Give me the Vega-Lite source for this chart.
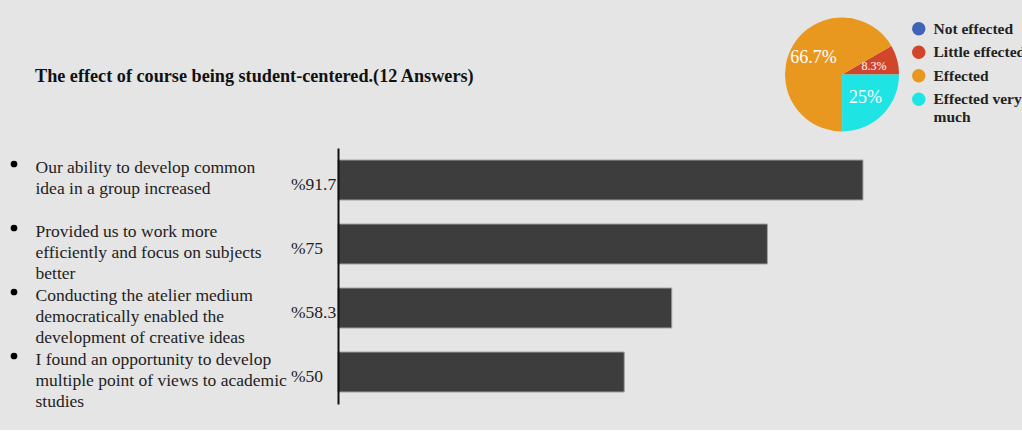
{
  "$schema": "https://vega.github.io/schema/vega-lite/v6.json",
  "background": "#e5e5e5",
  "padding": {"left": 10, "top": 17, "right": 0, "bottom": 20},
  "config": {"view": {"stroke": null}, "font": "Liberation Serif"},
  "datasets": {
    "items": [
      {"item": "Our ability to develop common\nidea in a group increased", "value": 91.7, "pct": "%91.7"},
      {"item": "Provided us to work more\nefficiently and focus on subjects\nbetter", "value": 75, "pct": "%75"},
      {"item": "Conducting the atelier  medium\ndemocratically enabled the\ndevelopment of creative ideas", "value": 58.3, "pct": "%58.3"},
      {"item": "I found an opportunity to develop\nmultiple point of views to academic\nstudies", "value": 50, "pct": "%50"}
    ],
    "pie": [
      {"answer": "Not effected", "value": 0, "label": "0%"},
      {"answer": "Little effected", "value": 8.3, "label": "8.3%"},
      {"answer": "Effected", "value": 66.7, "label": "66.7%"},
      {"answer": "Effected very much", "value": 25, "label": "25%"}
    ],
    "heading": [
      {"title": "The effect of course being student-centered.(12 Answers)"}
    ]
  },
  "spacing": 16,
  "vconcat": [
    {
      "width": 572.5,
      "height": 115,
      "layer": [
        {
          "data": {"name": "pie"},
          "mark": {"type": "arc", "outerRadius": 57},
          "encoding": {
            "theta": {"field": "value", "type": "quantitative", "stack": true, "scale": {"range": [1.0472, 7.3304]}},
            "order": {"field": "value", "sort": "ascending"},
            "x": {"datum": 88.04, "type": "quantitative", "scale": {"domain": [0, 100], "nice": false, "zero": false}, "axis": null},
            "color": {
              "field": "answer", "type": "nominal",
              "scale": {"domain": ["Not effected", "Little effected", "Effected", "Effected very much"], "range": ["#3f63b6", "#d1452b", "#e8971f", "#1fe4e4"]},
              "legend": {
                "title": null, "orient": "right", "offset": -4, "padding": 4,
                "symbolType": "circle", "symbolSize": 180, "symbolStrokeWidth": 0,
                "labelFont": "Liberation Serif", "labelFontSize": 15.5, "labelFontWeight": "bold",
                "labelColor": "#222222", "labelOffset": 7, "rowPadding": 6.5, "labelLimit": 200,
                "labelExpr": "datum.label == 'Effected very much' ? ['Effected very', 'much'] : datum.label"
              }
            }
          }
        },
        {
          "data": {"name": "pie"},
          "transform": [{"filter": "datum.value > 0"}],
          "mark": {"type": "text", "radius": 33, "color": "white", "font": "Liberation Serif"},
          "encoding": {
            "theta": {"field": "value", "type": "quantitative", "stack": true},
            "order": {"field": "value", "sort": "ascending"},
            "x": {"datum": 88.04, "type": "quantitative"},
            "text": {"field": "label"},
            "size": {"condition": {"test": "datum.value < 10", "value": 12}, "value": 18}
          }
        },
        {
          "data": {"name": "heading"},
          "mark": {"type": "text", "align": "left", "baseline": "middle", "dx": -303, "dy": 2, "fontSize": 18.2, "fontWeight": "bold", "color": "#111111"},
          "encoding": {
            "x": {"datum": 0, "type": "quantitative"},
            "text": {"field": "title"}
          }
        }
      ]
    },
    {
      "width": 572.5,
      "height": 256,
      "data": {"name": "items"},
      "encoding": {
        "y": {
          "field": "item", "type": "nominal", "sort": null,
          "scale": {"paddingInner": 0.375, "paddingOuter": 0.1875},
          "axis": {
            "title": null, "domain": true, "domainColor": "#111111", "domainWidth": 2,
            "ticks": false, "labelAlign": "left", "labelPadding": 303, "labelBaseline": "top",
            "labelOffset": -21, "labelFontSize": 17.5, "labelLineHeight": 21, "labelColor": "#222222",
            "labelLimit": 400, "zindex": 1,
            "labelExpr": "split(datum.label, '\\n')"
          }
        }
      },
      "layer": [
        {
          "mark": {"type": "bar", "color": "#3d3d3d", "stroke": "#a0a0a0", "strokeWidth": 1},
          "encoding": {"x": {"field": "value", "type": "quantitative", "scale": {"domain": [0, 100], "nice": false}, "axis": null}}
        },
        {
          "mark": {"type": "text", "align": "left", "baseline": "middle", "dx": -47, "dy": 5, "fontSize": 17.5, "color": "#222222"},
          "encoding": {"x": {"datum": 0, "type": "quantitative"}, "text": {"field": "pct"}}
        },
        {
          "mark": {"type": "point", "filled": true, "shape": "circle", "size": 45, "color": "black", "opacity": 1, "xOffset": -324, "yOffset": -16},
          "encoding": {"x": {"datum": 0, "type": "quantitative"}}
        }
      ]
    }
  ]
}
